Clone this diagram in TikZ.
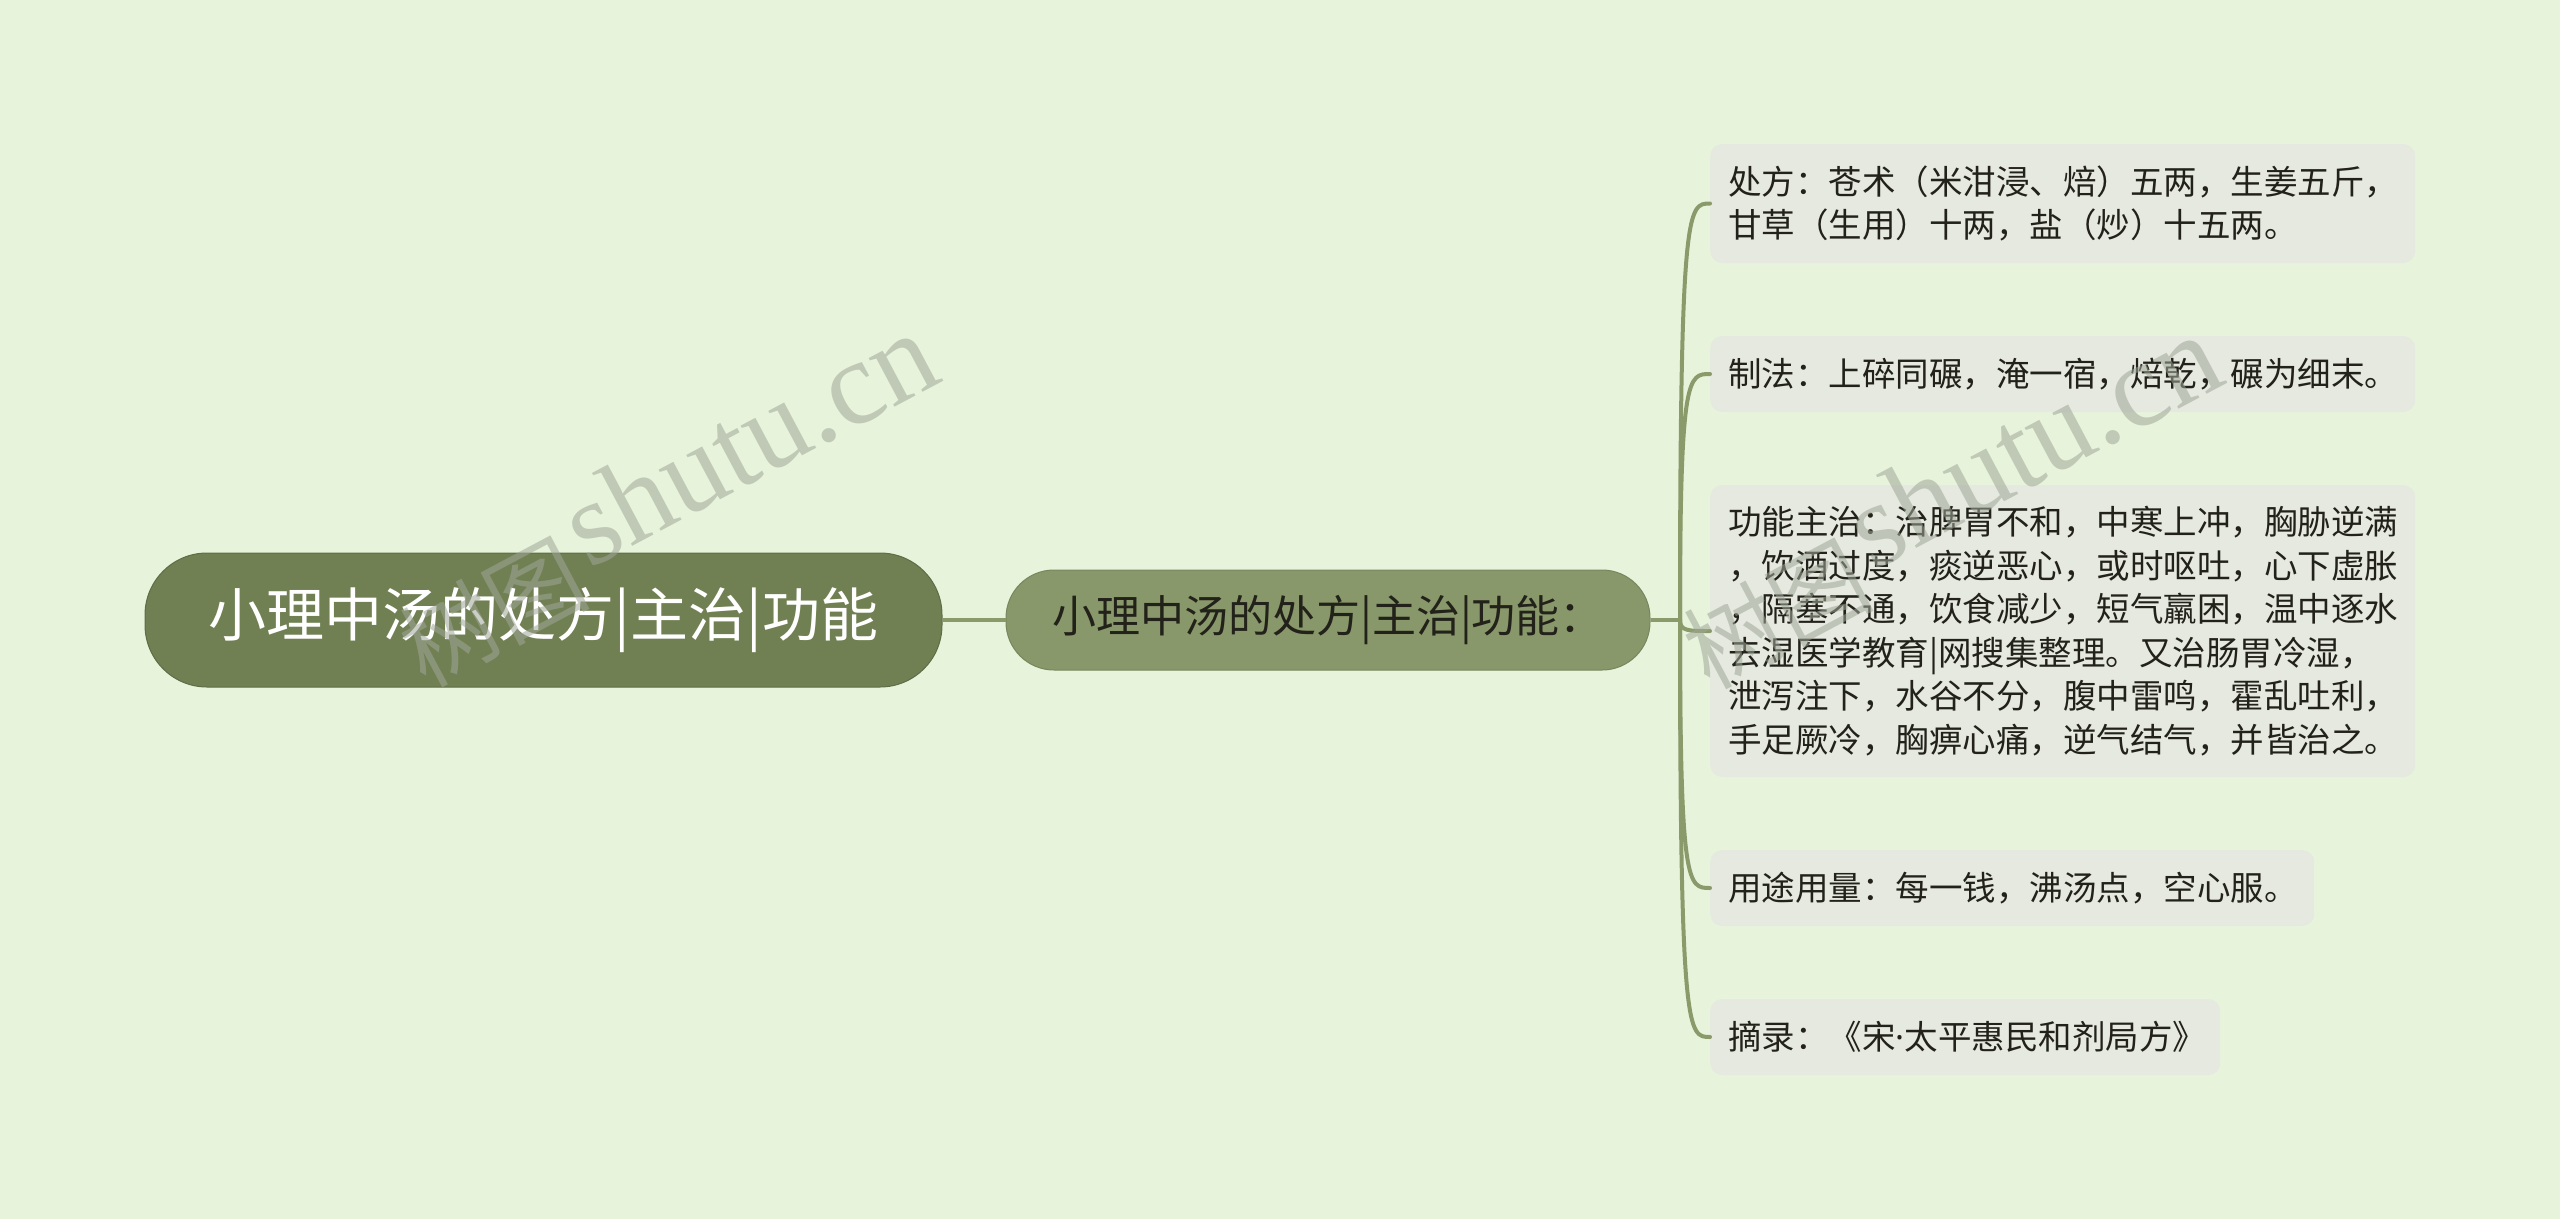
\documentclass[tikz,border=0pt]{standalone}
\usepackage{fontspec}
\setmainfont{Noto Sans CJK SC}
\newfontfamily\wmserif{Liberation Serif}
\newfontfamily\latsans{Noto Sans}
\usetikzlibrary{calc}
\definecolor{bgc}{RGB}{231,244,219}
\definecolor{rootc}{RGB}{112,128,82}
\definecolor{midc}{RGB}{137,152,106}
\definecolor{linec}{RGB}{138,154,107}
\definecolor{boxc}{RGB}{229,233,223}
\definecolor{txtc}{RGB}{34,34,26}
\definecolor{wmc}{RGB}{160,166,152}
\tikzset{
  rootbox/.style={draw=rootc!85!black, line width=1pt, fill=rootc, rounded corners=62pt, minimum width=797pt, minimum height=134pt, text=white, inner sep=0pt, font=\fontsize{58}{70}\selectfont},
  midbox/.style={draw=midc!88!black, line width=1pt, fill=midc, rounded corners=48pt, minimum width=644pt, minimum height=100pt, text=txtc, inner sep=0pt, font=\fontsize{44}{54}\selectfont},
  leafbox/.style={fill=boxc, rounded corners=12pt, anchor=west, align=left, inner xsep=18pt, inner ysep=0pt, text=txtc, font=\fontsize{33.5}{43.5}\selectfont},
  conn/.style={draw=linec, line width=4pt},
  wm/.style={text=wmc, text opacity=0.55, rotate=28, anchor=base, inner sep=0pt}
}
\newcommand{\wmtext}{{\fontsize{95}{105}\selectfont\raisebox{-28pt}{树图}}\kern 10pt{\wmserif\fontsize{120}{130}\selectfont shutu.cn}}
\begin{document}
\begin{tikzpicture}[x=1pt,y=-1pt]
\fill[bgc] (0,0) rectangle (2560,1219);
\useasboundingbox (0,0) rectangle (2560,1219);

\node[rootbox] (root) at (543.5,620) {小理中汤的处方|主治|功能};
\node[midbox] (mid) at (1328,620) {小理中汤的处方|主治|功能：};

\node[leafbox, text width=669pt, minimum height=119pt] (b1) at (1710,203.5) {处方：苍术（米泔浸、焙）五两，生姜五斤，\\甘草（生用）十两，盐（炒）十五两。};
\node[leafbox, text width=669pt, minimum height=76pt] (b2) at (1710,374) {制法：上碎同碾，淹一宿，焙乾，碾为细末。};
\node[leafbox, text width=669pt, minimum height=292pt] (b3) at (1710,631) {功能主治：治脾胃不和，中寒上冲，胸胁逆满\\，饮酒过度，痰逆恶心，或时呕吐，心下虚胀\\，隔塞不通，饮食减少，短气羸困，温中逐水\\去湿医学教育|网搜集整理。又治肠胃冷湿，\\泄泻注下，水谷不分，腹中雷鸣，霍乱吐利，\\手足厥冷，胸痹心痛，逆气结气，并皆治之。};
\node[leafbox, text width=568pt, minimum height=76pt] (b4) at (1710,888) {用途用量：每一钱，沸汤点，空心服。};
\node[leafbox, text width=474pt, minimum height=76pt] (b5) at (1710,1037) {摘录：《宋{\latsans ·}太平惠民和剂局方》};

\coordinate (hub) at (1680,620);
\draw[conn] (root.east) -- (mid.west);
\draw[conn] (mid.east) -- (hub);
\foreach \b in {b1,b2,b3,b4,b5}{
  \draw[conn, line cap=round] (hub) .. controls (hub |- \b.west) and ($(hub |- \b.west)+(8,0)$) .. (\b.west);
}

\node[wm] (wm1) at (679,522) {\wmtext};
\node[wm] (wm2) at (1963,524) {\wmtext};
\end{tikzpicture}
\end{document}
